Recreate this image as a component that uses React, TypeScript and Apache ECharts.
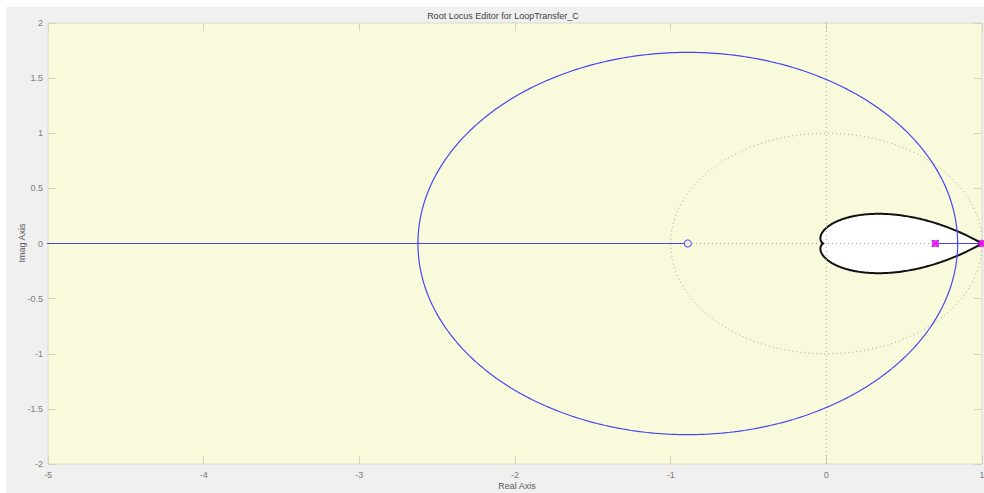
import React, { useEffect, useRef } from "react";
import * as echarts from "echarts";

// Open-loop model in the z-plane: poles, zeros, and the damping-ratio requirement.
const openLoopPoles: [number, number][] = [
  [0.7, 0],
  [1.0, 0],
];
const openLoopZeros: [number, number][] = [[-0.89, 0]];
const closedLoopPoles: [number, number][] = [
  [0.7, 0],
  [1.0, 0],
];
const dampingRatio = 0.78;

// Axis ranges and tick spacing.
const realRange: [number, number] = [-5, 1];
const realStep = 1;
const imagRange: [number, number] = [-2, 2];
const imagStep = 0.5;

const FONT = '"Liberation Sans", Arial, sans-serif';
const LOCUS_BLUE = "#4646f2";
const GUIDE_GRAY = "#a9a99b";
const TICK_GRAY = "#d2d2c2";

// Roots of den(z) + K*num(z) for the second-order loop, split into two branches.
function closedLoopRoots(K: number): [[number, number], [number, number]] {
  const p1 = openLoopPoles[0][0];
  const p2 = openLoopPoles[1][0];
  const z1 = openLoopZeros[0][0];
  const b = K - (p1 + p2);
  const c = p1 * p2 - K * z1;
  const d = b * b - 4 * c;
  if (d >= 0) {
    const s = Math.sqrt(d);
    return [
      [(-b + s) / 2, 0],
      [(-b - s) / 2, 0],
    ];
  }
  const s = Math.sqrt(-d);
  return [
    [-b / 2, s / 2],
    [-b / 2, -s / 2],
  ];
}

// Gains where the branches leave / re-enter the real axis.
function breakGains(): [number, number] {
  const p1 = openLoopPoles[0][0];
  const p2 = openLoopPoles[1][0];
  const z1 = openLoopZeros[0][0];
  const B = -2 * (p1 + p2) + 4 * z1;
  const C = (p1 - p2) * (p1 - p2);
  const r = Math.sqrt(B * B - 4 * C);
  return [(-B - r) / 2, (-B + r) / 2];
}

function gainSweep(): number[] {
  const [ka, kb] = breakGains();
  const n = 220;
  const out: number[] = [];
  const cosSeg = (k0: number, k1: number) => {
    for (let i = 0; i <= n; i++) out.push(k0 + ((k1 - k0) * (1 - Math.cos((Math.PI * i) / n))) / 2);
  };
  cosSeg(0, ka);
  cosSeg(ka, kb);
  // beyond the break-in point both roots stay on the real axis
  for (let i = 1; i <= 60; i++) out.push(kb * Math.pow(10, (6 * i) / 60));
  return out;
}

function locusBranches() {
  const a: [number, number][] = [];
  const b: [number, number][] = [];
  for (const K of gainSweep()) {
    const [ra, rb] = closedLoopRoots(K);
    a.push(ra);
    b.push(rb);
  }
  return { a, b };
}

// Boundary of constant damping ratio in the z-plane (upper half, then mirrored).
function dampingBoundary(): [number, number][] {
  const k = dampingRatio / Math.sqrt(1 - dampingRatio * dampingRatio);
  const n = 300;
  const upper: [number, number][] = [];
  for (let i = 0; i <= n; i++) {
    const th = (Math.PI * i) / n;
    const r = Math.exp(-k * th);
    upper.push([r * Math.cos(th), r * Math.sin(th)]);
  }
  const lower = upper
    .slice(0, -1)
    .reverse()
    .map(([x, y]) => [x, -y] as [number, number]);
  return [...upper, ...lower];
}

export default function App() {
  const ref = useRef<HTMLDivElement>(null);

  useEffect(() => {
    if (!ref.current) return;
    const chart = echarts.init(ref.current, undefined, { renderer: "svg" });
    const { a, b } = locusBranches();
    const region = dampingBoundary();

    const tickLabel = { fontSize: 9, color: "#7c7c7c", fontFamily: FONT };
    const tick = { show: true, inside: true, length: 8, lineStyle: { color: TICK_GRAY, width: 1 } };

    const xBase = {
      type: "value" as const,
      min: realRange[0],
      max: realRange[1],
      interval: realStep,
      axisLine: { show: false, onZero: false },
      axisTick: tick,
      splitLine: { show: false },
    };
    const yBase = {
      type: "value" as const,
      min: imagRange[0],
      max: imagRange[1],
      interval: imagStep,
      axisLine: { show: false, onZero: false },
      axisTick: tick,
      splitLine: { show: false },
    };

    chart.setOption({
      animation: false,
      backgroundColor: "transparent",
      grid: {
        left: 48,
        right: 2,
        top: 23,
        bottom: 29,
        outerBoundsMode: "none",
        containLabel: false,
        show: true,
        backgroundColor: "#f9f9dc",
        borderColor: "#dcdcc8",
        borderWidth: 1,
      },
      xAxis: [
        {
          ...xBase,
          position: "bottom",
          axisLabel: { ...tickLabel, margin: 6, showMinLabel: true, showMaxLabel: true },
        },
        { ...xBase, position: "top", axisLabel: { show: false } },
      ],
      yAxis: [
        {
          ...yBase,
          position: "left",
          axisLabel: { ...tickLabel, margin: 5, showMinLabel: true, showMaxLabel: true },
        },
        { ...yBase, position: "right", axisLabel: { show: false } },
      ],
      graphic: [
        {
          type: "text",
          x: 503,
          y: 15.5,
          style: {
            text: "Root Locus Editor for LoopTransfer_C",
            fontSize: 9,
            fontFamily: FONT,
            fill: "#404040",
            align: "center",
            verticalAlign: "middle",
          },
        },
        {
          type: "text",
          x: 517,
          y: 486,
          style: {
            text: "Real Axis",
            fontSize: 9,
            fontFamily: FONT,
            fill: "#5a5a5a",
            align: "center",
            verticalAlign: "middle",
          },
        },
        {
          type: "text",
          x: 22,
          y: 243,
          rotation: Math.PI / 2,
          style: {
            text: "Imag Axis",
            fontSize: 9,
            fontFamily: FONT,
            fill: "#5a5a5a",
            align: "center",
            verticalAlign: "middle",
          },
        },
      ],
      series: [
        {
          name: "allowed region",
          type: "custom",
          z: 1,
          data: [[0, 0]],
          renderItem: (_p: any, api: any) => ({
            type: "polygon",
            shape: { points: region.map((pt) => api.coord(pt)) },
            style: { fill: "#ffffff", stroke: "#111111", lineWidth: 2, lineJoin: "round" },
          }),
        },
        {
          name: "unit circle",
          type: "custom",
          z: 2,
          data: [[0, 0]],
          renderItem: (_p: any, api: any) => {
            const c = api.coord([0, 0]);
            const s = api.size([1, 1]);
            return {
              type: "ellipse",
              shape: { cx: c[0], cy: c[1], rx: s[0], ry: s[1] },
              style: { fill: "none", stroke: GUIDE_GRAY, lineWidth: 1, lineDash: [1, 3] },
            };
          },
        },
        {
          name: "real zero line",
          type: "line",
          z: 2,
          symbol: "none",
          data: [
            [realRange[0], 0],
            [realRange[1], 0],
          ],
          lineStyle: { color: GUIDE_GRAY, width: 1, type: [1, 3] },
        },
        {
          name: "imag zero line",
          type: "line",
          z: 2,
          symbol: "none",
          data: [
            [0, imagRange[0]],
            [0, imagRange[1]],
          ],
          lineStyle: { color: GUIDE_GRAY, width: 1, type: [1, 3] },
        },
        {
          name: "locus branch 1",
          type: "line",
          z: 3,
          symbol: "none",
          clip: true,
          data: a,
          lineStyle: { color: LOCUS_BLUE, width: 1.2 },
        },
        {
          name: "locus branch 2",
          type: "line",
          z: 3,
          symbol: "none",
          clip: true,
          data: b,
          lineStyle: { color: LOCUS_BLUE, width: 1.2 },
        },
        {
          name: "zeros",
          type: "scatter",
          z: 4,
          symbol: "circle",
          symbolSize: 7,
          data: openLoopZeros,
          itemStyle: { color: "#f9f9dc", borderColor: LOCUS_BLUE, borderWidth: 1.2 },
        },
        {
          name: "poles",
          type: "scatter",
          z: 4,
          symbol: "path://M0,0L10,10M10,0L0,10",
          symbolSize: 7,
          data: openLoopPoles,
          itemStyle: { color: "transparent", borderColor: LOCUS_BLUE, borderWidth: 1.2 },
        },
        {
          name: "closed-loop poles",
          type: "scatter",
          z: 5,
          symbol: "rect",
          symbolSize: 6,
          data: closedLoopPoles,
          itemStyle: { color: "#ff00ff", borderColor: "#b000b0", borderWidth: 0.6 },
        },
      ],
    });

    return () => chart.dispose();
  }, []);

  return (
    <div style={{ position: "absolute", left: 0, top: 0, width: 984, height: 493, background: "#ffffff" }}>
      <div style={{ position: "absolute", left: 6, top: 7, width: 978, height: 486, background: "#f0f0f0" }} />
      <div ref={ref} style={{ position: "absolute", left: 0, top: 0, width: 984, height: 493 }} />
    </div>
  );
}
